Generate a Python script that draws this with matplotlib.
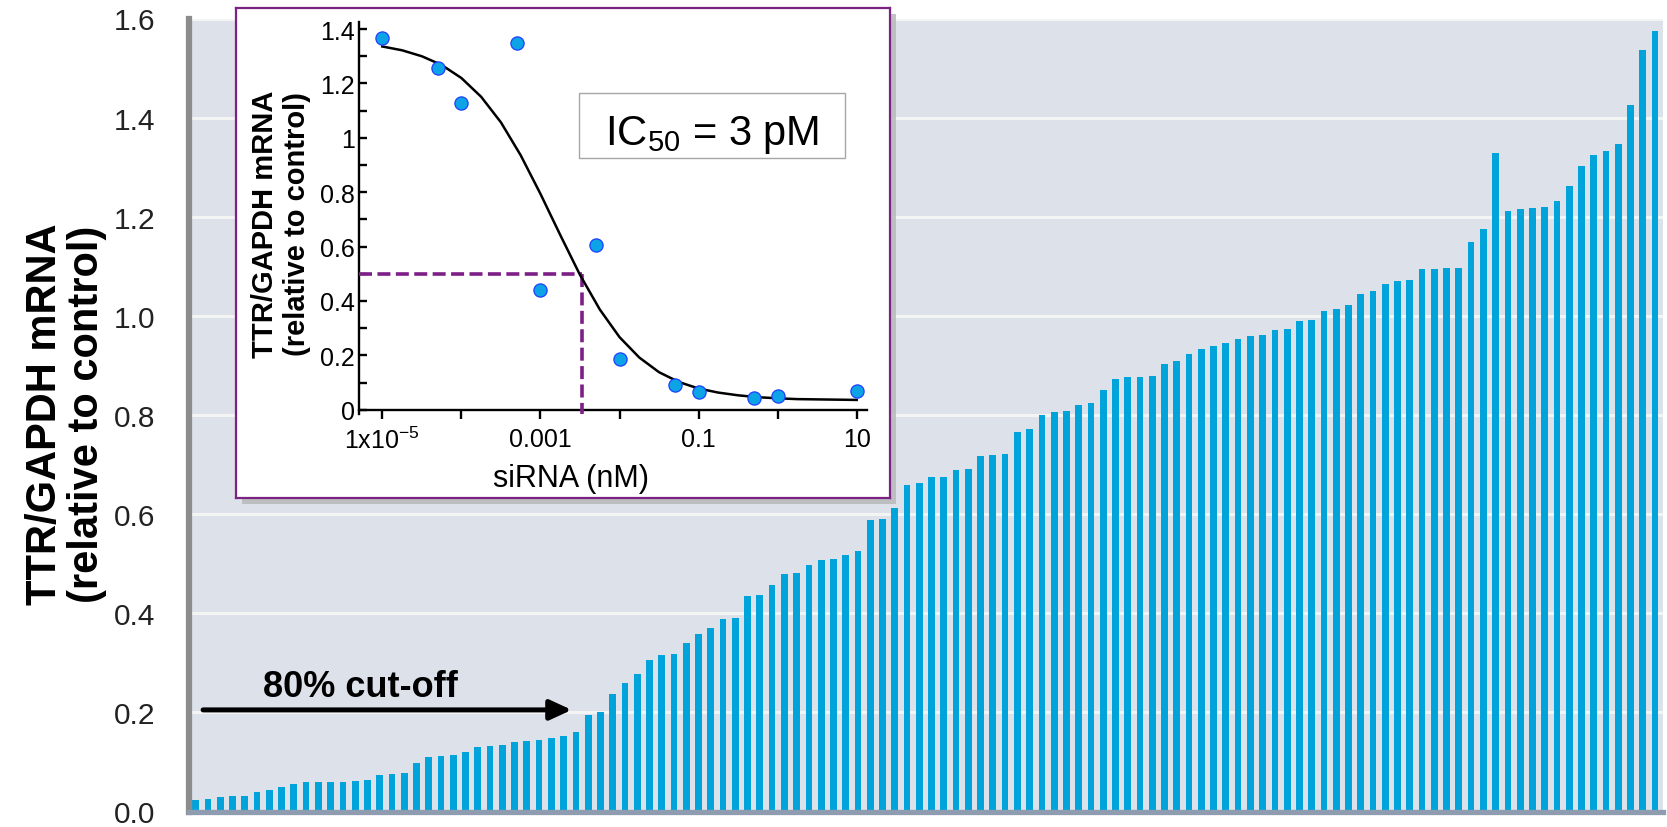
import matplotlib
matplotlib.use("Agg")
import matplotlib.pyplot as plt
from matplotlib import font_manager as fm
from matplotlib.patches import Rectangle
from matplotlib.ticker import NullLocator, FixedLocator

plt.rcParams['font.family'] = ['Liberation Sans', 'DejaVu Sans']
plt.rcParams['mathtext.fontset'] = 'custom'
plt.rcParams['mathtext.rm'] = 'Liberation Sans'
plt.rcParams['mathtext.it'] = 'Liberation Sans:italic'
plt.rcParams['mathtext.bf'] = 'Liberation Sans:bold'

# ---------------- data ----------------
screen_values = [
    0.023, 0.026, 0.029, 0.031, 0.032, 0.040, 0.043, 0.050, 0.055, 0.060,
    0.060, 0.060, 0.060, 0.062, 0.064, 0.074, 0.075, 0.078, 0.098, 0.109,
    0.112, 0.115, 0.121, 0.131, 0.132, 0.134, 0.141, 0.142, 0.145, 0.148,
    0.152, 0.161, 0.195, 0.201, 0.237, 0.260, 0.278, 0.306, 0.315, 0.317,
    0.340, 0.358, 0.370, 0.388, 0.390, 0.435, 0.436, 0.458, 0.480, 0.482,
    0.498, 0.507, 0.509, 0.517, 0.526, 0.589, 0.591, 0.613, 0.658, 0.663,
    0.674, 0.675, 0.690, 0.692, 0.717, 0.720, 0.722, 0.765, 0.772, 0.800,
    0.807, 0.809, 0.820, 0.824, 0.850, 0.872, 0.876, 0.876, 0.878, 0.903,
    0.909, 0.924, 0.934, 0.940, 0.946, 0.954, 0.960, 0.961, 0.971, 0.974,
    0.990, 0.992, 1.010, 1.014, 1.021, 1.045, 1.051, 1.064, 1.070, 1.073,
    1.095, 1.095, 1.096, 1.096, 1.150, 1.175, 1.329, 1.212, 1.215, 1.217,
    1.219, 1.231, 1.263, 1.302, 1.325, 1.332, 1.347, 1.426, 1.537, 1.575,
]
main_yticks = [0.0, 0.2, 0.4, 0.6, 0.8, 1.0, 1.2, 1.4, 1.6]
main_yticklabels = ['0.0', '0.2', '0.4', '0.6', '0.8', '1.0', '1.2', '1.4', '1.6']
cutoff_level = 0.205

dose_nM = [1e-5, 5e-5, 1e-4, 5e-4, 1e-3, 5e-3, 1e-2, 5e-2, 0.1, 0.5, 1.0, 10.0]
dose_resp = [1.367, 1.257, 1.128, 1.350, 0.440, 0.607, 0.188, 0.091, 0.064, 0.042, 0.049, 0.069]

curve_log_x = [-5.0, -4.75, -4.5, -4.25, -4.0, -3.75, -3.5, -3.25, -3.0, -2.75,
               -2.5, -2.25, -2.0, -1.75, -1.5, -1.25, -1.0, -0.75, -0.5, -0.25,
               0.0, 0.25, 0.5, 0.75, 1.0]
curve_y = [1.336, 1.322, 1.300, 1.268, 1.220, 1.151, 1.057, 0.936, 0.794, 0.643,
           0.496, 0.369, 0.267, 0.192, 0.138, 0.102, 0.078, 0.063, 0.053, 0.046,
           0.042, 0.039, 0.038, 0.037, 0.036]
ic50_log = -2.48

inset_xticks = [1e-5, 1e-4, 1e-3, 1e-2, 1e-1, 1, 10]
inset_xticklabels = [r'1x10$^{\mathregular{-5}}$', '', '0.001', '', '0.1', '', '10']
inset_yticks = [0, 0.2, 0.4, 0.6, 0.8, 1.0, 1.2, 1.4]
inset_yticklabels = ['0', '0.2', '0.4', '0.6', '0.8', '1', '1.2', '1.4']
inset_yminor = [0.1, 0.3, 0.5, 0.7, 0.9, 1.1, 1.3]

# ---------------- figure ----------------
W, H = 1667, 828
fig = plt.figure(figsize=(W / 100, H / 100), dpi=100)
fig.patch.set_facecolor('white')

def fx(px):
    return px / W

def fy(py):
    return (H - py) / H

# main axes
ax = fig.add_axes([fx(189), fy(812.5), fx(1663) - fx(189), fy(19.5) - fy(812.5)])
ax.set_facecolor('#DDE1EA')
idx = list(range(len(screen_values)))
ax.bar(idx, screen_values, width=0.55, color='#00A3DA', zorder=2)
ax.set_xlim(-0.55, 119.65)
ax.set_ylim(0, 1.6)
ax.set_yticks(main_yticks)
ax.set_yticklabels(main_yticklabels)
ax.set_xticks([])
ax.set_axisbelow(True)
ax.yaxis.grid(True, color='#F4F4F4', lw=2.2)
ax.tick_params(axis='y', length=0, pad=24, labelsize=21.5, labelcolor='#222222')
for s in ['top', 'right']:
    ax.spines[s].set_visible(False)
ax.spines['left'].set_color('#8C8C8C')
ax.spines['left'].set_linewidth(4.5)
ax.spines['bottom'].set_color('#8F9BAE')
ax.spines['bottom'].set_linewidth(3.8)

names = {f.name for f in fm.fontManager.ttflist}
if 'Liberation Sans Narrow' in names:
    lab_family, lab_size, lab_ls = ['Liberation Sans Narrow', 'Liberation Sans'], 36, 0.95
else:
    lab_family, lab_size, lab_ls = ['Liberation Sans', 'DejaVu Sans'], 30, 1.05
fig.text(fx(66), fy(414.6), 'TTR/GAPDH mRNA\n(relative to control)', rotation=90,
         ha='center', va='center', multialignment='center', fontsize=lab_size,
         family=lab_family, weight='bold', linespacing=lab_ls)

# cut-off arrow and label
ax.annotate('', xy=(30.66, cutoff_level), xytext=(0.6, cutoff_level),
            arrowprops=dict(arrowstyle='-|>,head_length=0.65,head_width=0.3',
                            lw=3.6, color='black', mutation_scale=20,
                            shrinkA=0, shrinkB=0), zorder=5)
ax.text(5.49, 0.233, '80% cut-off', fontsize=26, weight='bold', ha='left',
        va='baseline', zorder=5)

# ---------------- inset ----------------
x0, x1, y0, y1 = 235.7, 890, 9, 499
shadow = Rectangle((fx(x0 + 6), fy(y1 + 6)), fx(x1) - fx(x0), fy(y0) - fy(y1),
                   transform=fig.transFigure, fc='#B8B8B8', ec='none', alpha=0.85, zorder=4)
fig.add_artist(shadow)

frame = fig.add_axes([fx(x0), fy(y1), fx(x1) - fx(x0), fy(y0) - fy(y1)], zorder=5)
frame.set_facecolor('white')
frame.set_xticks([])
frame.set_yticks([])
for s in frame.spines.values():
    s.set_color('#7B2382')
    s.set_linewidth(1.6)

ia = fig.add_axes([fx(359.3), fy(414.8), fx(867.3) - fx(359.3), fy(23.0) - fy(414.8)], zorder=6)
ia.patch.set_alpha(0)
ia.set_xscale('log')
ia.set_xlim(10 ** -5.291, 10 ** 1.134)
ia.set_ylim(-0.015, 1.426)
ia.spines['top'].set_visible(False)
ia.spines['right'].set_visible(False)
ia.spines['bottom'].set_position(('data', 0))
for s in ['left', 'bottom']:
    ia.spines[s].set_linewidth(1.7)
ia.xaxis.set_major_locator(FixedLocator(inset_xticks))
ia.set_xticklabels(inset_xticklabels)
ia.xaxis.set_minor_locator(NullLocator())
ia.set_yticks(inset_yticks)
ia.set_yticklabels(inset_yticklabels)
ia.yaxis.set_minor_locator(FixedLocator(inset_yminor))
ia.tick_params(axis='x', which='major', direction='out', length=6.5, width=1.7,
               labelsize=18, pad=6)
ia.tick_params(axis='y', which='both', direction='in', length=6, width=1.7,
               labelsize=18, pad=3)

purple = '#7D1F86'
lx = 10 ** ic50_log
ia.plot([10 ** -5.291, lx], [0.5, 0.5], color=purple, lw=2.6, ls=(0, (3.6, 1.5)), zorder=3)
ia.plot([lx, lx], [0.5, -0.015], color=purple, lw=2.6, ls=(0, (3.6, 1.5)), zorder=3,
        clip_on=False)
ia.plot([10 ** v for v in curve_log_x], curve_y, color='black', lw=1.8, zorder=4,
        solid_joinstyle='round')
ia.plot(dose_nM, dose_resp, ls='none', marker='o', ms=9.5, mfc='#0CA4E6',
        mec='#1F3FFF', mew=0.9, zorder=5, clip_on=False)

fig.text(fx(281), fy(224), 'TTR/GAPDH mRNA\n(relative to control)', rotation=90,
         ha='center', va='center', multialignment='center', fontsize=21,
         weight='bold', linespacing=1.15, zorder=7)
fig.text(fx(571), fy(487), 'siRNA (nM)', ha='center', va='baseline', fontsize=22, zorder=7)

box = Rectangle((fx(579), fy(159)), fx(845) - fx(579), fy(94) - fy(159),
                transform=fig.transFigure, fc='white', ec='#A6A6A6', lw=1.0, zorder=7)
fig.add_artist(box)
fig.text(fx(712), fy(145), r'IC$_{\mathregular{50}}$ = 3 pM', ha='center', va='baseline',
         fontsize=30, zorder=8)

fig.savefig('out.png', dpi=100)
